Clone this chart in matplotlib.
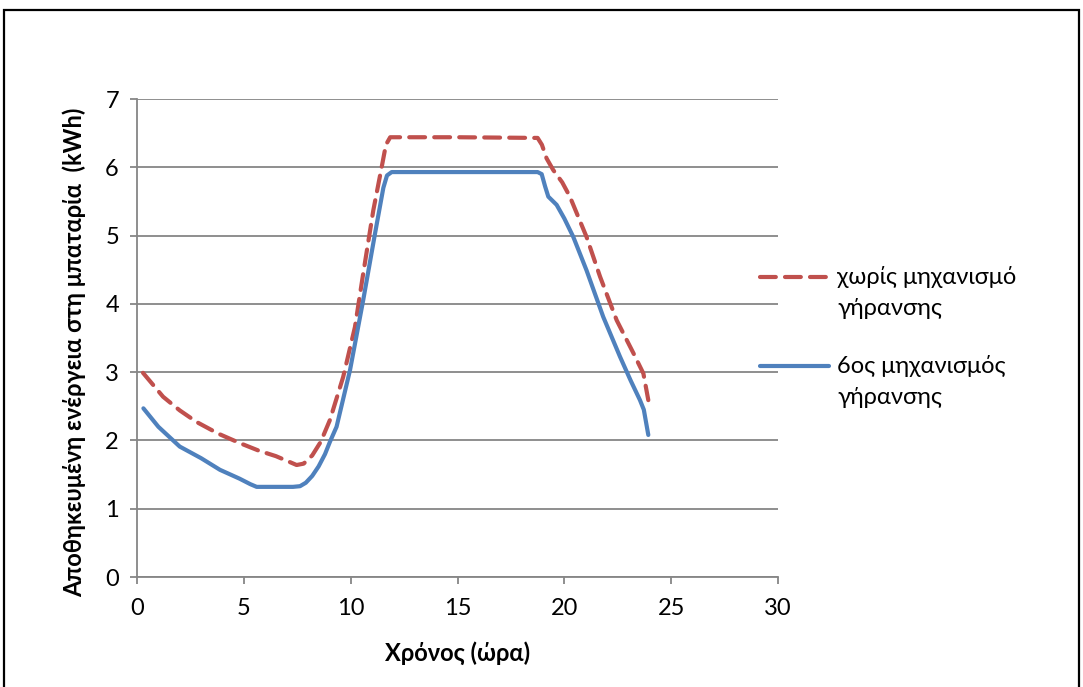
import matplotlib
matplotlib.use("Agg")
import matplotlib.pyplot as plt
from matplotlib.patches import Rectangle

plt.rcParams['font.family'] = ['Lato', 'DejaVu Sans']

# Data
t_red = [0.28, 1.22, 2.0, 2.79, 3.8, 4.82, 5.7, 6.5, 7.1, 7.47, 7.8, 8.2, 8.6, 9.03, 9.65, 10.2,
         10.59, 11.06, 11.45, 11.65, 11.85, 12.5, 15.0, 18.75, 18.95, 19.17, 19.48, 19.9, 20.26,
         21.04, 21.67, 22.45, 23.23, 23.7, 23.93]
e_red = [2.99, 2.64, 2.44, 2.27, 2.10, 1.96, 1.85, 1.77, 1.69, 1.64, 1.66, 1.78, 1.98, 2.30, 2.93,
         3.66, 4.45, 5.37, 6.00, 6.33, 6.44, 6.44, 6.44, 6.43, 6.33, 6.13, 5.96, 5.78, 5.57,
         4.98, 4.40, 3.76, 3.28, 2.98, 2.59]

t_blue = [0.30, 1.0, 2.0, 3.0, 3.88, 4.8, 5.3, 5.6, 6.5, 7.3, 7.63, 7.9, 8.2, 8.5, 8.8, 9.03,
          9.34, 9.97, 10.59, 11.14, 11.53, 11.7, 11.92, 15.0, 18.75, 18.94, 19.1, 19.25, 19.64,
          20.0, 20.42, 21.04, 21.82, 22.6, 23.1, 23.54, 23.72, 23.93]
e_blue = [2.47, 2.20, 1.91, 1.74, 1.57, 1.44, 1.36, 1.32, 1.32, 1.32, 1.33, 1.38, 1.48, 1.62, 1.80,
          1.98, 2.20, 3.03, 4.06, 5.03, 5.70, 5.88, 5.93, 5.93, 5.93, 5.90, 5.72, 5.57, 5.45,
          5.25, 4.98, 4.49, 3.81, 3.23, 2.88, 2.59, 2.45, 2.08]

label_red = "χωρίς μηχανισμό\nγήρανσης"
label_blue = "6ος μηχανισμός\nγήρανσης"
xlabel = "Χρόνος (ώρα)"
ylabel = "Αποθηκευμένη ενέργεια στη μπαταρία  (kWh)"
xticks = [0, 5, 10, 15, 20, 25, 30]
yticks = [0, 1, 2, 3, 4, 5, 6, 7]

fig = plt.figure(figsize=(10.83, 6.87), dpi=100)
ax = fig.add_axes([137/1083, 1 - 577/687, (778-137)/1083, (577-99)/687])

red = '#C0504D'
blue = '#4F81BD'
grid = '#868686'

ax.plot(t_red, e_red, color=red, lw=3, linestyle=(0, (3.8, 2.2)), label=label_red,
        dash_capstyle='round', dash_joinstyle='round', zorder=3)
ax.plot(t_blue, e_blue, color=blue, lw=3, label=label_blue,
        solid_capstyle='round', solid_joinstyle='round', zorder=4)

ax.set_xlim(0, 30)
ax.set_ylim(0, 7)
ax.set_xticks(xticks)
ax.set_yticks(yticks)
ax.yaxis.grid(True, color=grid, lw=1.3)
ax.set_axisbelow(True)
for s in ['top', 'right']:
    ax.spines[s].set_visible(False)
for s in ['left', 'bottom']:
    ax.spines[s].set_color(grid)
    ax.spines[s].set_linewidth(1.3)
ax.tick_params(axis='both', direction='out', length=5, width=1.3, color=grid,
               labelsize=17, labelcolor='#000000')
ax.tick_params(axis='x', pad=10)
ax.tick_params(axis='y', pad=8)

ax.set_xlabel(xlabel, fontsize=17, fontweight='bold', labelpad=16)
ax.set_ylabel(ylabel, fontsize=17, fontweight='bold')
ax.yaxis.set_label_coords(-0.079, 0.47)

leg = fig.legend(loc='upper left', bbox_to_anchor=(739/1083, 1 - 245/687), frameon=False,
                 fontsize=17, handlelength=2.9, handletextpad=0.35, labelspacing=1.55)
for t in leg.texts:
    t.set_linespacing(1.55)
# align legend handles with the first line of each two-line label
for h in leg.legend_handles:
    yd = h.get_ydata()
    h.set_ydata([y + 11.0 for y in yd])

fig.patches.append(Rectangle((4/1083, -0.05), (1079-4)/1083, (1 - 10/687) + 0.05,
                             transform=fig.transFigure, fill=False, ec='black', lw=1.6))

fig.savefig('out.png', dpi=100)
